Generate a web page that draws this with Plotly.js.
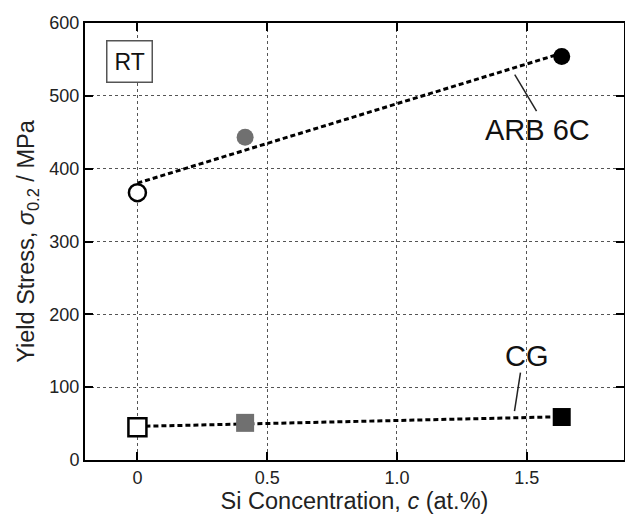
<!DOCTYPE html>
<html>
<head>
<meta charset="utf-8">
<script src="https://cdn.plot.ly/plotly-3.0.1.min.js"></script>
<style>html,body{margin:0;padding:0;background:#fff;}#chart{width:625px;height:518px;}</style>
</head>
<body>
<div id="chart"></div>
<script>
// Data
const siConc = [0, 0.415, 1.635];
const arbStress = [367, 443, 554];
const cgStress = [45, 51, 59];
const markerColors = ['#ffffff', '#707070', '#000000'];
const xTickVals = [0, 0.5, 1.0, 1.5];
const xTickText = ['0', '0.5', '1.0', '1.5'];
const yTickVals = [0, 100, 200, 300, 400, 500, 600];

function fit(xs, ys) {
  const n = xs.length;
  const mx = xs.reduce((a, b) => a + b, 0) / n;
  const my = ys.reduce((a, b) => a + b, 0) / n;
  let sxy = 0, sxx = 0;
  for (let i = 0; i < n; i++) { sxy += (xs[i] - mx) * (ys[i] - my); sxx += (xs[i] - mx) ** 2; }
  const b = sxy / sxx, a = my - b * mx;
  const x0 = Math.min(...xs), x1 = Math.max(...xs);
  return { x: [x0, x1], y: [a + b * x0, a + b * x1] };
}
const arbFit = fit(siConc, arbStress);
const cgFit = fit(siConc, cgStress);

const lineStyle = { color: '#000', width: 3, dash: '5px,3px' };
const traces = [
  { x: arbFit.x, y: arbFit.y, mode: 'lines', line: lineStyle, hoverinfo: 'skip', showlegend: false },
  { x: cgFit.x, y: cgFit.y, mode: 'lines', line: lineStyle, hoverinfo: 'skip', showlegend: false },
  { x: siConc, y: arbStress, mode: 'markers', showlegend: false,
    marker: { symbol: 'circle', size: 17, color: markerColors,
      line: { color: ['#000', '#707070', '#000'], width: [2.5, 0, 0] } } },
  { x: siConc, y: cgStress, mode: 'markers', showlegend: false,
    marker: { symbol: 'square', size: 18, color: markerColors,
      line: { color: ['#000', '#707070', '#000'], width: [2.5, 0, 0] } } }
];

const font = 'Liberation Sans, Arial, sans-serif';
const layout = {
  width: 625, height: 518,
  margin: { l: 85, r: 1, t: 23, b: 58 },
  paper_bgcolor: '#fff', plot_bgcolor: '#fff',
  font: { family: font, color: '#000', size: 18 },
  xaxis: {
    range: [-0.202, 1.875], tickvals: xTickVals, ticktext: xTickText,
    showline: true, linewidth: 2, linecolor: '#000', mirror: 'ticks',
    ticks: 'inside', ticklen: 8, tickwidth: 2, tickcolor: '#000',
    showgrid: true, gridcolor: '#555', griddash: 'dot', gridwidth: 1,
    zeroline: false, tickfont: { size: 18, color: '#222' },
    title: { text: 'Si Concentration, <i>c</i> (at.%)', font: { size: 23.5, color: '#222' }, standoff: 6 }
  },
  yaxis: {
    range: [0, 600], tickvals: yTickVals,
    showline: true, linewidth: 2, linecolor: '#000', mirror: 'ticks',
    ticks: 'inside', ticklen: 8, tickwidth: 2, tickcolor: '#000',
    showgrid: true, gridcolor: '#555', griddash: 'dot', gridwidth: 1,
    zeroline: false, tickfont: { size: 18, color: '#222' },
    title: { text: 'Yield Stress, <i>σ</i><sub>0.2</sub> / MPa', font: { size: 23.5, color: '#222' }, standoff: 8 }
  },
  annotations: [
    { xref: 'paper', yref: 'paper', x: (129.5 - 85) / 539, y: (460 - 61.5) / 437, text: 'RT',
      showarrow: false, font: { size: 23, color: '#111' }, bordercolor: '#555', borderwidth: 1.5,
      borderpad: 7, bgcolor: '#fff', xanchor: 'center', yanchor: 'middle' },
    { x: 1.54, y: 453, text: 'ARB 6C', showarrow: false, font: { size: 29, color: '#111' },
      xanchor: 'center', yanchor: 'middle' },
    { x: 1.5, y: 143, text: 'CG', showarrow: false, font: { size: 29, color: '#111' },
      xanchor: 'center', yanchor: 'middle' }
  ],
  shapes: [
    { type: 'line', x0: 1.454, y0: 529, x1: 1.538, y1: 479, line: { color: '#222', width: 1.5 } },
    { type: 'line', x0: 1.476, y0: 120, x1: 1.453, y1: 67, line: { color: '#222', width: 1.5 } }
  ]
};

Plotly.newPlot('chart', traces, layout, { staticPlot: true, displayModeBar: false });
</script>
</body>
</html>
